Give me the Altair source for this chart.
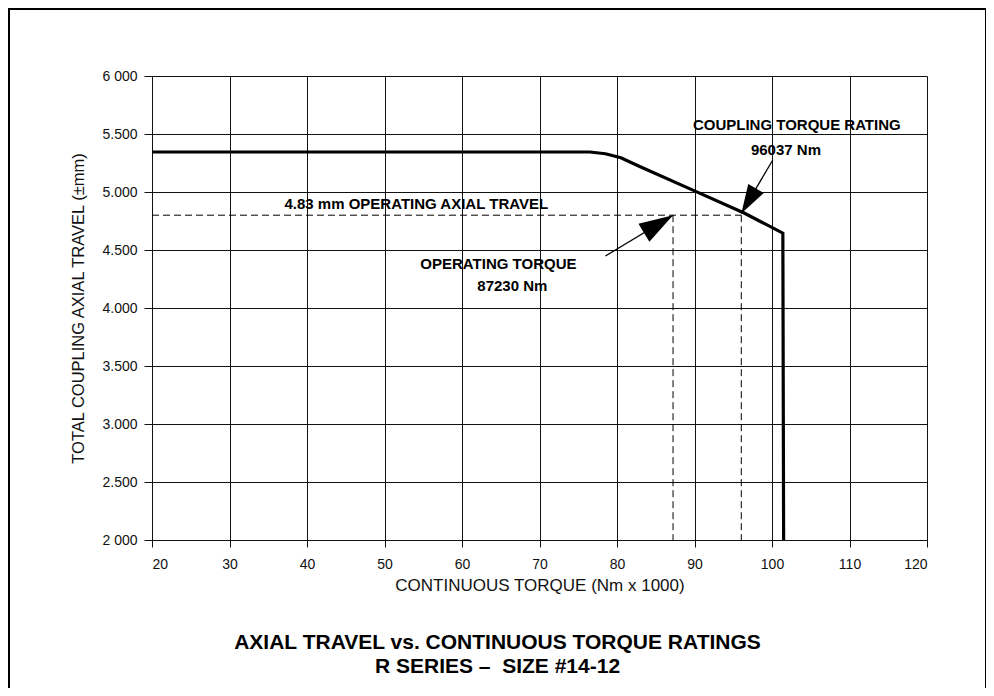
import math
import altair as alt
import pandas as pd

# ---------------- data ----------------
X_TICKS = [20, 30, 40, 50, 60, 70, 80, 90, 100, 110, 120]
Y_TICKS = [2000, 2500, 3000, 3500, 4000, 4500, 5000, 5500, 6000]
Y_TICK_LABELS = ["2 000", "2.500", "3.000", "3.500", "4.000", "4.500", "5.000", "5.500", "6 000"]

CURVE_TORQUE = [20, 76.5, 78.5, 80.5, 83, 90, 96.4, 101.4, 101.5]
CURVE_TRAVEL = [5345, 5345, 5330, 5295, 5218, 5010, 4819, 4645, 2000]

OPERATING_TRAVEL = 4800
OPERATING_TORQUE = 87.23
RATED_TORQUE = 96.037

ARROW_TAIL_X = [78.5, 100.1]
ARROW_TAIL_Y = [4448, 5276]
ARROW_TIP_X = [87.23, 96.04]
ARROW_TIP_Y = [4800, 4815]
ARROW_HEAD_LEN = [34, 29]

NOTE_TEXT = ["4.83 mm OPERATING AXIAL TRAVEL", "OPERATING TORQUE", "87230 Nm",
             "COUPLING TORQUE RATING", "96037 Nm"]
NOTE_X = [54.1, 64.7, 66.5, 103.2, 101.8]
NOTE_Y = [4897, 4379, 4190, 5578, 5362]

TITLE_LINES = ["AXIAL TRAVEL vs. CONTINUOUS TORQUE RATINGS", "R SERIES \u2013\u00a0 SIZE #14-12"]
X_TITLE = "CONTINUOUS TORQUE (Nm x 1000)"
Y_TITLE = "TOTAL COUPLING AXIAL TRAVEL (\u00b1mm)"

# ---------------- layout ----------------
W, H = 775, 464
FONT = "Liberation Sans"
X_DOM = [X_TICKS[0], X_TICKS[-1]]
Y_DOM = [Y_TICKS[0], Y_TICKS[-1]]
kx = W / (X_DOM[1] - X_DOM[0])
ky = H / (Y_DOM[1] - Y_DOM[0])

label_expr = " : ".join(
    f"datum.value == {v} ? '{l}'" for v, l in zip(Y_TICKS, Y_TICK_LABELS)
) + " : ''"

xs = alt.Scale(domain=X_DOM, nice=False, zero=False)
ys = alt.Scale(domain=Y_DOM, nice=False, zero=False)

x_axis = alt.Axis(values=X_TICKS, title=X_TITLE, grid=True, gridColor="#111", gridWidth=1,
                  gridOpacity=1, domainColor="#111", tickColor="#111", tickSize=7,
                  labelFont=FONT, labelFontSize=14, labelColor="#111", labelPadding=10,
                  titleFont=FONT, titleFontSize=17, titleFontWeight="normal",
                  titleColor="#111", titlePadding=6, format="d")
y_axis = alt.Axis(values=Y_TICKS, title=Y_TITLE, grid=True, gridColor="#111", gridWidth=1,
                  gridOpacity=1, domainColor="#111", tickColor="#111", tickSize=8,
                  labelFont=FONT, labelFontSize=14, labelColor="#111", labelPadding=7,
                  labelExpr=label_expr,
                  titleFont=FONT, titleFontSize=16.5, titleFontWeight="normal",
                  titleColor="#111", titlePadding=15)

curve_df = pd.DataFrame({"torque": CURVE_TORQUE, "travel": CURVE_TRAVEL})

base_axes = alt.Chart(curve_df).mark_line(color="black", strokeWidth=3.2, strokeJoin="miter").encode(
    x=alt.X("torque:Q", scale=xs, axis=x_axis),
    y=alt.Y("travel:Q", scale=ys, axis=y_axis),
)

dash_df = pd.DataFrame({
    "x": [X_DOM[0], OPERATING_TORQUE, RATED_TORQUE],
    "x2": [RATED_TORQUE, OPERATING_TORQUE, RATED_TORQUE],
    "y": [OPERATING_TRAVEL, OPERATING_TRAVEL, OPERATING_TRAVEL],
    "y2": [OPERATING_TRAVEL, Y_DOM[0], Y_DOM[0]],
})
dashes = alt.Chart(dash_df).mark_rule(color="black", strokeWidth=1, strokeDash=[7, 4]).encode(
    x=alt.X("x:Q", scale=xs), x2="x2:Q",
    y=alt.Y("y:Q", scale=ys), y2="y2:Q",
)

angles = []
for tx, ty, hx, hy in zip(ARROW_TAIL_X, ARROW_TAIL_Y, ARROW_TIP_X, ARROW_TIP_Y):
    dx = (hx - tx) * kx
    dy = -(hy - ty) * ky
    angles.append(math.degrees(math.atan2(dx, -dy)) % 360)

arrow_df = pd.DataFrame({
    "tx": ARROW_TAIL_X, "ty": ARROW_TAIL_Y, "hx": ARROW_TIP_X, "hy": ARROW_TIP_Y,
    "angle": angles, "size": [l * l for l in ARROW_HEAD_LEN],
})
shafts = alt.Chart(arrow_df).mark_rule(color="black", strokeWidth=1.3).encode(
    x=alt.X("tx:Q", scale=xs), x2="hx:Q",
    y=alt.Y("ty:Q", scale=ys), y2="hy:Q",
)
heads = alt.Chart(arrow_df).mark_point(
    shape="M0,0L0.62,2L-0.62,2Z", filled=True, color="black", opacity=1, strokeWidth=0
).encode(
    x=alt.X("hx:Q", scale=xs), y=alt.Y("hy:Q", scale=ys),
    angle=alt.Angle("angle:Q", scale=None),
    size=alt.Size("size:Q", scale=None),
)

note_df = pd.DataFrame({"text": NOTE_TEXT, "x": NOTE_X, "y": NOTE_Y})
notes = alt.Chart(note_df).mark_text(
    font=FONT, fontSize=15, fontWeight="bold", color="black", align="center", baseline="middle"
).encode(x=alt.X("x:Q", scale=xs), y=alt.Y("y:Q", scale=ys), text="text:N")

title_df = pd.DataFrame({"t": ["\n".join(TITLE_LINES)]})
title = alt.Chart(title_df).mark_text(
    font=FONT, fontSize=21, fontWeight="bold", color="black", align="center",
    baseline="top", lineBreak="\n", lineHeight=24
).encode(x=alt.value(345.5), y=alt.value(556), text="t:N")

frame = alt.Chart(pd.DataFrame({"k": [0]})).mark_rect(
    filled=False, stroke="black", strokeWidth=2
).encode(x=alt.value(-143), x2=alt.value(834), y=alt.value(-67), y2=alt.value(700))

chart = alt.layer(frame, dashes, base_axes, shafts, heads, notes, title).properties(
    width=W, height=H,
    padding={"left": 144, "top": 68, "right": 59, "bottom": 148},
    autosize=alt.AutoSizeParams(type="none"),
).configure_view(stroke="#111", strokeWidth=1).configure(background="white")

chart.save("out.html", embed_options={"renderer": "svg", "actions": False})
